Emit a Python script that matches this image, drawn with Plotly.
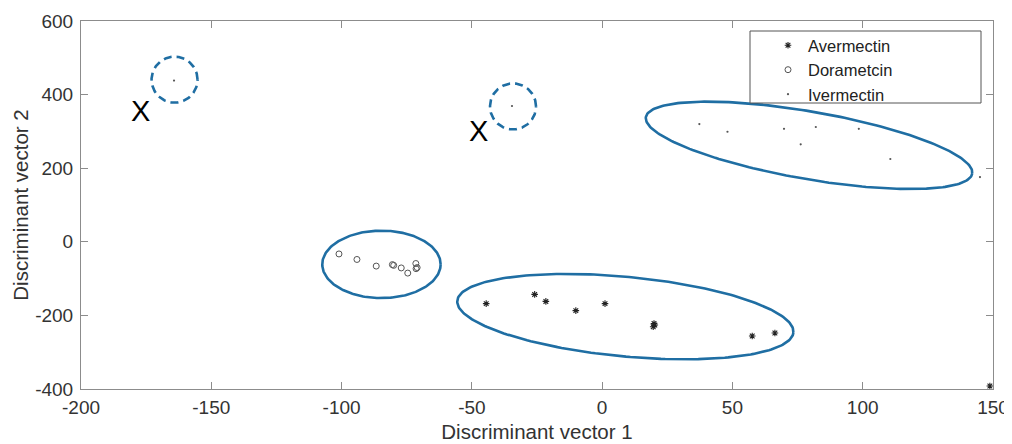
import numpy as np
import plotly.graph_objects as go

# ---- data ----
aver_x = [-44.5, -25.9, -21.6, -10.1, 1.1, 19.9, 19.6, 20.2, 57.6, 66.3, 148.8]
aver_y = [-168, -143, -162, -187, -168, -222, -231, -226, -256, -248, -392]

dora_x = [-101.0, -94.1, -86.7, -80.5, -80.0, -77.1, -74.6, -71.5, -71.0, -71.4]
dora_y = [-33, -48, -66, -62, -64, -71, -85, -59, -70, -73]

iver_x = [37.3, 48.1, 69.8, 82.0, 76.2, 98.5, 110.6, 145.0, -164.3, -34.6]
iver_y = [320, 299, 307, 312, 265, 307, 225, 176, 438, 369]

x_range = [-200, 150]
y_range = [-400, 600]
x_ticks = [-200, -150, -100, -50, 0, 50, 100, 150]
x_tick_labels = ["-200", "-150", "-100", "-50", "0", "50", "100", "150"]
y_ticks = [-400, -200, 0, 200, 400, 600]
y_tick_labels = ["-400", "-200", "0", "200", "400", "600"]

# ---- figure geometry (page body has an 8px margin) ----
OFF = 8
W, H = 1012 - OFF, 444 - OFF
ML, MT = 81 - OFF, 21 - OFF
PW, PH = 912, 368
MR, MB = W - ML - PW, H - MT - PH
SX = PW / (x_range[1] - x_range[0])   # px per x unit
SY = PH / (y_range[1] - y_range[0])   # px per y unit

# cluster outlines: center (data), semi-axes (px), angle (deg), dashed?
outlines = [
    dict(c=(-84.7, -61.3), a=59.2, b=33.7, ang=0.0, dash=False),
    dict(c=(8.9, -203.3), a=168.8, b=39.8, ang=-5.4, dash=False),
    dict(c=(79.4, 262.1), a=165.6, b=33.8, ang=-9.84, dash=False),
    dict(c=(-164.1, 440.6), a=23, b=23, ang=0.0, dash=True),
    dict(c=(-34.2, 367.9), a=23, b=23, ang=0.0, dash=True),
]

BLUE = "#1f6ea3"
FONT = "Liberation Sans, Arial, sans-serif"
fig = go.Figure()

t = np.linspace(0, 2 * np.pi, 241)
for o in outlines:
    th = np.deg2rad(o["ang"])
    px = o["a"] * np.cos(t) * np.cos(th) - o["b"] * np.sin(t) * np.sin(th)
    py = o["a"] * np.cos(t) * np.sin(th) + o["b"] * np.sin(t) * np.cos(th)
    fig.add_trace(go.Scatter(
        x=o["c"][0] + px / SX, y=o["c"][1] + py / SY, mode="lines",
        line=dict(color=BLUE, width=2.6, dash="8px,5px" if o["dash"] else "solid"),
        showlegend=False, hoverinfo="skip"))

fig.add_trace(go.Scatter(x=aver_x, y=aver_y, mode="markers", name="Avermectin",
                         marker=dict(symbol="asterisk-open", size=5.5, color="#222",
                                     line=dict(color="#222", width=1.1))))
fig.add_trace(go.Scatter(x=dora_x, y=dora_y, mode="markers", name="Dorametcin",
                         marker=dict(symbol="circle-open", size=6, color="#555",
                                     line=dict(color="#555", width=1))))
fig.add_trace(go.Scatter(x=iver_x, y=iver_y, mode="markers", name="Ivermectin",
                         marker=dict(symbol="circle", size=2.2, color="#555")))

for xx, yy in [(-177, 355), (-47.3, 300)]:
    fig.add_annotation(x=xx, y=yy, text="X", showarrow=False,
                       font=dict(family=FONT, size=29, color="black"))

axis_common = dict(showline=True, linecolor="#8c8c8c", linewidth=1, mirror="ticks",
                   ticks="inside", ticklen=7, tickcolor="#8c8c8c", showgrid=False,
                   zeroline=False, automargin=False,
                   tickfont=dict(family=FONT, size=19, color="#333"),
                   title_font=dict(family=FONT, size=20.5, color="#333"))

fig.update_xaxes(range=x_range, tickvals=x_ticks, ticktext=x_tick_labels,
                 title_text="Discriminant vector 1",
                 title_standoff=7, ticklabelstandoff=1, **axis_common)
fig.update_yaxes(range=y_range, tickvals=y_ticks, ticktext=y_tick_labels,
                 title_text="Discriminant vector 2",
                 title_standoff=0, ticklabelstandoff=3, **axis_common)

# legend box (drawn as a rectangle, legend placed inside it); window pixel coords
def px2paper_x(v):
    return (v - OFF - ML) / PW

def px2paper_y(v):
    return (MT + PH - (v - OFF)) / PH

fig.add_shape(type="rect", xref="paper", yref="paper",
              x0=px2paper_x(750), x1=px2paper_x(981),
              y0=px2paper_y(103), y1=px2paper_y(31),
              line=dict(color="#555", width=1), fillcolor="white", layer="above")

fig.update_layout(
    width=W, height=H, margin=dict(l=ML, r=MR, t=MT, b=MB),
    plot_bgcolor="white", paper_bgcolor="white",
    font=dict(family=FONT, color="#333"),
    legend=dict(x=px2paper_x(768), y=px2paper_y(28), xanchor="left", yanchor="top",
                borderwidth=0, bgcolor="rgba(0,0,0,0)",
                font=dict(family=FONT, size=16.5, color="#222"), tracegroupgap=0),
)

fig.write_html("out.html")
